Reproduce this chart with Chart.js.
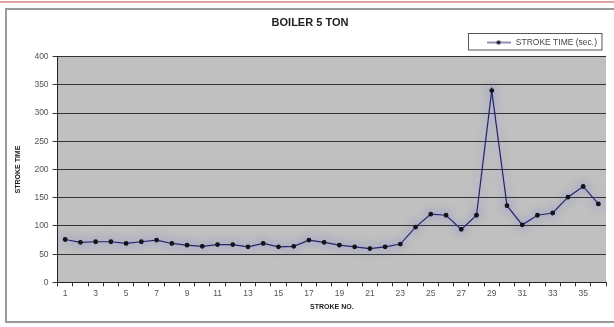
<!DOCTYPE html>
<html>
<head>
<meta charset="utf-8">
<script src="https://cdn.jsdelivr.net/npm/chart.js@4.4.1/dist/chart.umd.min.js"></script>
<style>
    html, body { margin: 0; padding: 0; background: #fff; }
    #wrap { width: 614px; height: 327px; position: relative; }
</style>
</head>
<body>
<div id="wrap"><canvas id="chart"></canvas></div>
<script>
// stroke number 1..36 and measured stroke time (sec.)
const strokeNo = ['1','2','3','4','5','6','7','8','9','10','11','12','13','14','15','16','17','18',
                  '19','20','21','22','23','24','25','26','27','28','29','30','31','32','33','34','35','36'];
const strokeTime = [76, 71, 72, 72, 69, 72, 75, 69, 66, 64, 67, 67, 63, 69, 63, 64, 75, 71,
                    66, 63, 60, 63, 68, 98, 121, 119, 94, 119, 340, 136, 102, 119, 123, 151, 170, 139];
const yTicks = [0, 50, 100, 150, 200, 250, 300, 350, 400];

const LINE = '#23236b';

// legend marker: short line with a dot in the middle
const marker = document.createElement('canvas');
marker.width = 24; marker.height = 6;
(() => {
    const c = marker.getContext('2d');
    c.strokeStyle = LINE; c.lineWidth = 1;
    c.beginPath(); c.moveTo(0, 3); c.lineTo(24, 3); c.stroke();
    c.fillStyle = '#111';
    c.beginPath(); c.arc(12, 3, 2, 0, Math.PI * 2); c.fill();
})();

// outer frame, top rule and grey plot background
const frame = {
    id: 'frame',
    beforeDraw(chart) {
        const { ctx, chartArea: a, width, height } = chart;
        ctx.save();
        ctx.fillStyle = '#fff';
        ctx.fillRect(0, 0, width, height);
        ctx.strokeStyle = '#e6a0a0';
        ctx.lineWidth = 2;
        ctx.beginPath(); ctx.moveTo(0, 2); ctx.lineTo(width, 2); ctx.stroke();
        ctx.strokeStyle = '#9a9a9a';
        ctx.lineWidth = 2;
        ctx.strokeRect(6, 9, width + 4, height - 14);
        ctx.fillStyle = '#c0c0c0';
        ctx.fillRect(a.left, a.top, a.right - a.left, a.bottom - a.top);
        ctx.restore();
    },
    afterDraw(chart) {
        // box round the legend
        const boxes = chart.legend.legendHitBoxes;
        if (!boxes || !boxes.length) return;
        const b = boxes[0];
        const { ctx } = chart;
        ctx.save();
        ctx.strokeStyle = '#555';
        ctx.lineWidth = 1;
        ctx.strokeRect(Math.round(b.left) - 17.5, Math.round(b.top) - 4.5, b.width + 22, b.height + 8);
        ctx.restore();
    },
    beforeDatasetDraw(chart) {
        const ctx = chart.ctx;
        ctx.save();
        ctx.shadowColor = 'rgba(110, 110, 235, 0.65)';
        ctx.shadowBlur = 8;
    },
    afterDatasetDraw(chart) {
        chart.ctx.restore();
    }
};

new Chart(document.getElementById('chart'), {
    type: 'line',
    data: {
        labels: strokeNo,
        datasets: [{
            label: 'STROKE TIME (sec.)',
            data: strokeTime,
            borderColor: LINE,
            borderWidth: 1.2,
            pointRadius: 1.8,
            pointBackgroundColor: '#111',
            pointBorderColor: '#111',
            pointStyle: 'circle',
            tension: 0
        }]
    },
    options: {
        responsive: true,
        maintainAspectRatio: false,
        animation: false,
        layout: { padding: { left: 14, right: 8, top: 9, bottom: 16 } },
        plugins: {
            title: {
                display: true,
                text: 'BOILER 5 TON',
                color: '#222',
                font: { family: 'Liberation Sans, Arial', size: 11, weight: 'bold' },
                padding: { top: 7, bottom: 0 }
            },
            legend: {
                position: 'top',
                align: 'end',
                labels: {
                    color: '#444',
                    font: { family: 'Liberation Sans, Arial', size: 8.5 },
                    usePointStyle: true,
                    pointStyle: marker,
                    pointStyleWidth: 26,
                    boxHeight: 6,
                    padding: 9
                }
            },
            tooltip: { enabled: false }
        },
        scales: {
            x: {
                offset: true,
                grid: { display: true, drawOnChartArea: false, offset: true, color: '#333', tickLength: 4 },
                border: { color: '#222', width: 1 },
                ticks: {
                    autoSkip: false,
                    maxRotation: 0,
                    color: '#555',
                    font: { family: 'Liberation Sans, Arial', size: 8.5 },
                    padding: 2,
                    callback: (v, i) => (i % 2 === 0 ? strokeNo[i] : '')
                },
                title: {
                    display: true,
                    text: 'STROKE NO.',
                    color: '#222',
                    font: { family: 'Liberation Sans, Arial', size: 7, weight: 'bold' },
                    padding: { top: 2, bottom: 0 }
                }
            },
            y: {
                min: 0,
                max: 400,
                afterBuildTicks: s => { s.ticks = yTicks.map(v => ({ value: v })); },
                grid: { color: '#333', lineWidth: 1, tickLength: 5, tickColor: '#333' },
                border: { color: '#222', width: 1 },
                ticks: {
                    color: '#555',
                    font: { family: 'Liberation Sans, Arial', size: 8.5 },
                    padding: 4
                },
                title: {
                    display: true,
                    text: 'STROKE TIME',
                    color: '#222',
                    font: { family: 'Liberation Sans, Arial', size: 7, weight: 'bold' },
                    padding: { top: 0, bottom: 8 }
                }
            }
        }
    },
    plugins: [frame]
});
</script>
</body>
</html>
